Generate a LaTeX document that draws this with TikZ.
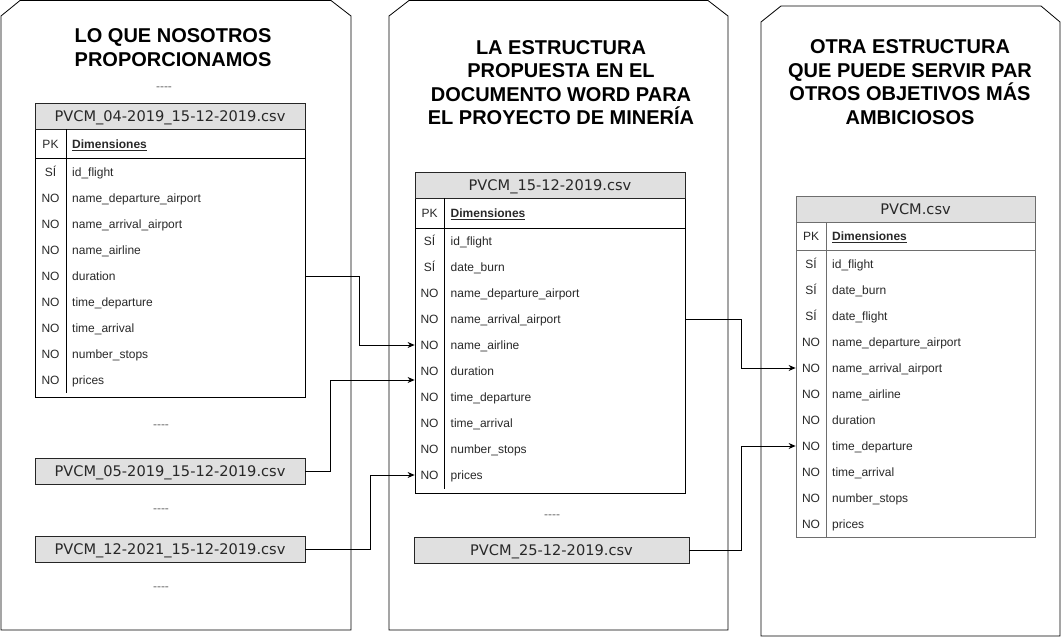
\documentclass[tikz,border=0pt]{standalone}
\usepackage{fontspec}
\setmainfont{Liberation Sans}
\newfontfamily\csvfont{DejaVu Sans}
\usetikzlibrary{arrows.meta}

\begin{document}
\begin{tikzpicture}[x=1pt,y=-1pt,
  panel/.style={draw=black,line width=0.8pt},
  heading/.style={font=\fontsize{20}{23.5}\selectfont\bfseries,align=center},
  frame/.style={draw=black,line width=0.8pt,inner sep=0pt},
  csvbox/.style={draw=black!85,line width=0.8pt,fill=csvgray,minimum height=26pt,inner sep=0pt,
    text height=10pt,text depth=0pt,text=textgray,font=\csvfont\fontsize{14.6}{16}\selectfont},
  pkcell/.style={inner sep=0pt,text height=8.6pt,text depth=0pt,text=textgray,font=\fontsize{12}{14}\selectfont},
  rowcell/.style={pkcell,anchor=west},
  dots/.style={pkcell,text=black!60},
  conn/.style={draw=black,line width=0.8pt,-{Stealth[length=7pt,width=6pt]}}
]
% Define colors
\definecolor{csvgray}{RGB}{224,224,224}
\definecolor{textgray}{RGB}{40,40,40}
\definecolor{framegray}{RGB}{110,110,110}

\useasboundingbox (0,0) rectangle (1062,637);

% Panels with cut top corners
\draw[panel] (1,630) -- (1,16) -- (20,0.5) -- (331,0.5) -- (351,16) -- (351,630) -- cycle;
\draw[panel] (389,630) -- (389,16) -- (409,0.5) -- (708,0.5) -- (728,16) -- (728,630) -- cycle;
\draw[panel] (761,636) -- (761,22) -- (781,6) -- (1041,6) -- (1060,22) -- (1060,636) -- cycle;

% Headings
\node[heading] (lefttitle) at (173,47.5) {LO QUE NOSOTROS\\PROPORCIONAMOS};
\node[heading] (midtitle) at (561,82.5) {LA ESTRUCTURA\\PROPUESTA EN EL\\DOCUMENTO WORD PARA\\EL PROYECTO DE MINERÍA};
\node[heading] (righttitle) at (910,82) {OTRA ESTRUCTURA\\QUE PUEDE SERVIR PAR\\OTROS OBJETIVOS MÁS\\AMBICIOSOS};

% Left table: PVCM_04-2019
\node[frame,minimum width=270pt,minimum height=294pt] (Ltab) at (170,250) {};
\node[csvbox,minimum width=270pt] (Lhead) at (170,116) {PVCM\_04-2019\_15-12-2019.csv};
\draw[line width=0.8pt] (35,158) -- (305,158);
\draw[line width=0.8pt] (66,129) -- (66,158) (66,158) -- (66,393);
\node[pkcell] at (50.5,144) {PK};
\node[rowcell] at (72,144) {\textbf{\underline{Dimensiones}}};
\foreach \pk/\txt [count=\i] in {SÍ/id\_flight, NO/name\_departure\_airport, NO/name\_arrival\_airport,
  NO/name\_airline, NO/duration, NO/time\_departure, NO/time\_arrival, NO/number\_stops, NO/prices} {
  \node[pkcell] at (50.5,146+26*\i) {\pk};
  \node[rowcell] (L\i) at (72,146+26*\i) {\txt};
}

% Other monthly files
\node[dots] (ldots1) at (164,86) {\mbox{-}\mbox{-}\mbox{-}\mbox{-}};
\node[dots] (ldots2) at (161,424) {\mbox{-}\mbox{-}\mbox{-}\mbox{-}};
\node[csvbox,minimum width=270pt] (L05) at (170,471) {PVCM\_05-2019\_15-12-2019.csv};
\node[dots] (ldots3) at (161,508) {\mbox{-}\mbox{-}\mbox{-}\mbox{-}};
\node[csvbox,minimum width=270pt] (L12) at (170,549.7) {PVCM\_12-2021\_15-12-2019.csv};
\node[dots] (ldots4) at (161,586) {\mbox{-}\mbox{-}\mbox{-}\mbox{-}};

% Middle table: PVCM_15-12-2019
\node[frame,minimum width=270pt,minimum height=321pt] (Mtab) at (550,332.5) {};
\node[csvbox,minimum width=270pt] (Mhead) at (550,185) {PVCM\_15-12-2019.csv};
\draw[line width=0.8pt] (415,228) -- (685,228);
\draw[line width=0.8pt] (444,198) -- (444,228) (444,228) -- (444,489);
\node[pkcell] at (429.5,213) {PK};
\node[rowcell] at (450.5,213) {\textbf{\underline{Dimensiones}}};
\foreach \pk/\txt [count=\i] in {SÍ/id\_flight, SÍ/date\_burn, NO/name\_departure\_airport, NO/name\_arrival\_airport,
  NO/name\_airline, NO/duration, NO/time\_departure, NO/time\_arrival, NO/number\_stops, NO/prices} {
  \node[pkcell] at (429.5,215+26*\i) {\pk};
  \node[rowcell] (M\i) at (450.5,215+26*\i) {\txt};
}
\node[dots] (mdots) at (552,514) {\mbox{-}\mbox{-}\mbox{-}\mbox{-}};
\node[csvbox,minimum width=275pt] (M25) at (551.5,550) {PVCM\_25-12-2019.csv};

% Right table: PVCM
\node[frame,draw=framegray,minimum width=239pt,minimum height=341pt] (Rtab) at (915.5,366.5) {};
\node[csvbox,draw=framegray,minimum width=239pt] (Rhead) at (915.5,209) {PVCM.csv};
\draw[framegray,line width=0.8pt] (796,250) -- (1035,250);
\draw[framegray,line width=0.8pt] (826,222) -- (826,250) (826,250) -- (826,537);
\node[pkcell] at (811,236) {PK};
\node[rowcell] at (832,236) {\textbf{\underline{Dimensiones}}};
\foreach \pk/\txt [count=\i] in {SÍ/id\_flight, SÍ/date\_burn, SÍ/date\_flight, NO/name\_departure\_airport,
  NO/name\_arrival\_airport, NO/name\_airline, NO/duration, NO/time\_departure, NO/time\_arrival,
  NO/number\_stops, NO/prices} {
  \node[pkcell] at (811,238+26*\i) {\pk};
  \node[rowcell] (R\i) at (832,238+26*\i) {\txt};
}

% Connectors
\coordinate[yshift=-9pt] (Min) at (M6.west -| Mtab.west);
\draw[conn] (L5 -| Ltab.east) -- ++(54,0) |- (M5 -| Mtab.west);
\draw[conn] (L05.east) -- ++(25,0) |- (Min);
\draw[conn] (L12.east) -- ++(65,0) |- (M10 -| Mtab.west);
\draw[conn] (M4 -| Mtab.east) -- ++(56,0) |- (R5 -| Rtab.west);
\draw[conn] (M25.east) -- ++(52,0) |- (R8 -| Rtab.west);

\end{tikzpicture}
\end{document}
